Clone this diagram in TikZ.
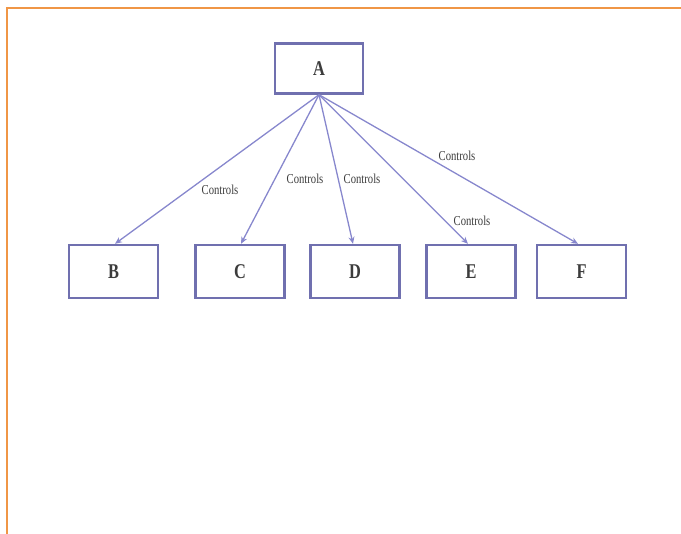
\documentclass[tikz,border=0pt]{standalone}
\usepackage{fontspec}
\setmainfont{Liberation Serif}
\usetikzlibrary{arrows.meta}
\definecolor{boxline}{RGB}{112,112,175}
\definecolor{linkline}{RGB}{135,135,205}
\definecolor{frameorange}{RGB}{240,150,70}
\definecolor{textgray}{RGB}{60,60,60}
\tikzset{
  entity/.style={draw=boxline, line width=2.4pt, minimum width=89pt, minimum height=53pt,
    inner sep=0pt, text=textgray},
  letter/.style={font=\fontsize{21}{21}\selectfont\bfseries, text=textgray, inner sep=0pt,
    xscale=0.78},
  link/.style={draw=linkline, line width=1.3pt, -{Stealth[length=7pt,width=6pt]}},
  tag/.style={font=\fontsize{13}{13}\selectfont, text=textgray, inner sep=1pt,
    xscale=0.82, yscale=1.05}
}
\begin{document}
\begin{tikzpicture}[x=1pt,y=-1pt]
\useasboundingbox (0,0) rectangle (681,534);
% page frame lines
\draw[frameorange, line width=2pt] (6.5,534) -- (6.5,8.5) -- (681,8.5);
% boxes
\node[entity, minimum width=88pt, minimum height=50pt] (A) at (319,68.5) {};
\node[entity] (B) at (113.5,271.5) {};
\node[entity] (C) at (240,271.5) {};
\node[entity] (D) at (355,271.5) {};
\node[entity] (E) at (471,271.5) {};
\node[entity] (F) at (581.5,271.5) {};
% box captions
\node[letter] (tA) at (A.center) {A};
\node[letter] (tB) at (B.center) {B};
\node[letter] (tC) at (C.center) {C};
\node[letter] (tD) at (D.center) {D};
\node[letter] (tE) at (E.center) {E};
\node[letter] (tF) at (F.center) {F};
% connectors
\coordinate (Aout) at (A.south);
\draw[link] (Aout) -- ([xshift=1.5pt]B.north);
\draw[link] (Aout) -- ([xshift=1pt]C.north);
\draw[link] (Aout) -- ([xshift=-2pt]D.north);
\draw[link] (Aout) -- ([xshift=-3pt]E.north);
\draw[link] (Aout) -- ([xshift=-3.5pt]F.north);
% edge labels
\node[tag] (l1) at (220,190) {Controls};
\node[tag] (l2) at (305,179) {Controls};
\node[tag] (l3) at (362,179) {Controls};
\node[tag] (l4) at (472,221) {Controls};
\node[tag] (l5) at (457,156) {Controls};
\end{tikzpicture}
\end{document}
